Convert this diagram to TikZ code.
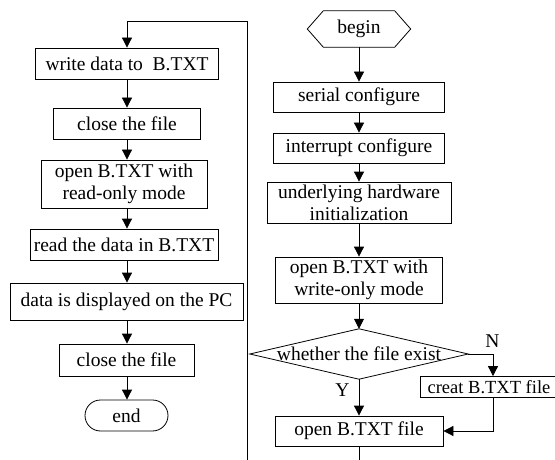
\documentclass[tikz,border=0pt]{standalone}
\usepackage{fontspec}
\setmainfont{Liberation Serif}
\usetikzlibrary{arrows.meta}
\begin{document}
\begin{tikzpicture}[x=1pt,y=-1pt,
  every node/.style={font=\fontsize{19.5}{22}\selectfont, inner sep=0pt, align=center},
  box/.style={draw, line width=0.8pt, rectangle},
  plain/.style={line width=0.8pt},
  flow/.style={line width=0.8pt, -{Triangle[width=10pt,length=10pt]}},
  lbl/.style={font=\fontsize{19.5}{22}\selectfont}]
\useasboundingbox (0,0) rectangle (555,460);

% left column: reading the file back
\node[box, minimum width=183, minimum height=31] (w1) at (127,63.5) {write data to~ B.TXT};
\node[box, minimum width=147, minimum height=31] (w2) at (127,123.5) {close the file};
\node[box, minimum width=166, minimum height=48] (w3) at (124,184) {open B.TXT with\\read-only mode};
\node[box, minimum width=188, minimum height=31] (w4) at (124,244.5) {read the data in B.TXT};
\node[box, minimum width=233, minimum height=37] (w5) at (126.5,301.5) {data is displayed on the PC};
\node[box, minimum width=135, minimum height=32] (w6) at (126.5,360) {close the file};
\node[box, minimum width=83, minimum height=31, rounded corners=15.5pt] (end) at (126.5,415.5) {end};

% right column: start-up and opening the file
\coordinate (rc) at (359,0);
\node[minimum width=103, minimum height=36] (begin) at (359,29) {begin};
\draw[plain] ([xshift=16]begin.north west) -- ([xshift=-16]begin.north east) -- (begin.east)
  -- ([xshift=-16]begin.south east) -- ([xshift=16]begin.south west) -- (begin.west) -- cycle;
\node[box, minimum width=171, minimum height=30] (r1) at (359,97) {serial configure};
\node[box, minimum width=171, minimum height=30] (r2) at (359,148) {interrupt configure};
\node[box, minimum width=184, minimum height=41] (r3) at (359,202.5) {underlying hardware\\initialization};
\node[box, minimum width=167, minimum height=46] (r4) at (359,280) {open B.TXT with\\write-only mode};
\node[minimum width=218, minimum height=50] (exist) at (359,354) {whether the file exist};
\draw[plain] (exist.west) -- (exist.north) -- (exist.east) -- (exist.south) -- cycle;
\node[box, minimum width=138, minimum height=21, font=\fontsize{18.5}{21}\selectfont] (creat) at (489,387) {creat B.TXT file};
\node[box, minimum width=168, minimum height=30] (r5) at (359,431) {open B.TXT file};
\node[lbl] (nlab) at (492.5,341) {N};
\node[lbl] (ylab) at (342.5,390) {Y};
\coordinate (nc) at (493,0);

% connectors on the right
\draw[flow] (begin.south) -- (r1.north);
\draw[flow] (r1.south) -- (r2.north);
\draw[flow] (r2.south) -- (r3.north);
\draw[flow] (r3.south) -- (r4.north);
\draw[flow] (r4.south) -- (exist.north);
\draw[flow] (exist.east) -| (creat.north -| nc);
\draw[flow] (exist.south) -- (r5.north);
\draw[flow] (creat.south -| nc) |- (r5.east);
\coordinate (rb) at (359,460);
\draw[plain] (r5.south) -- (rb);

% loop back to the left column
\coordinate (lb) at (247,460);
\coordinate (lt) at (247,21);
\coordinate (lc) at (127,21);
\draw[flow] (lb) -- (lt) -- (lc) -- (w1.north -| lc);

% connectors on the left
\draw[flow] (w1.south -| lc) -- (w2.north -| lc);
\draw[flow] (w2.south -| lc) -- (w3.north -| lc);
\draw[flow] (w3.south -| lc) -- (w4.north -| lc);
\draw[flow] (w4.south -| lc) -- (w5.north -| lc);
\draw[flow] (w5.south -| lc) -- (w6.north -| lc);
\draw[flow] (w6.south -| lc) -- (end.north -| lc);
\end{tikzpicture}
\end{document}
